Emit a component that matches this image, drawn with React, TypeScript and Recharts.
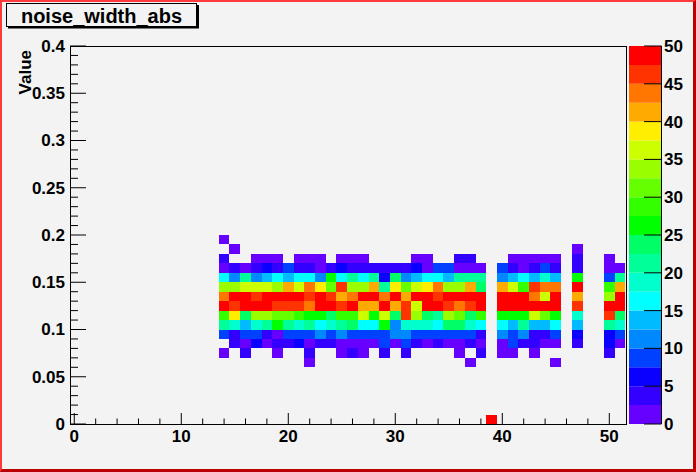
import React from 'react';
import { ScatterChart, Scatter, XAxis, YAxis, ReferenceArea, BarChart, Bar } from 'recharts';

const FONT = "'Liberation Sans', Arial, Helvetica, sans-serif";
const BG = '#f3f3f3';

// bin centres along x (channel), bin lower edges along y (Value)
const xBins = [14, 15, 16, 17, 18, 19, 20, 21, 22, 23, 24, 25, 26, 27, 28, 29, 30, 31, 32, 33,
    34, 35, 36, 37, 38, 39, 40, 41, 42, 43, 44, 45, 46, 47, 48, 49, 50, 51];
const rowLows = [0.19, 0.18, 0.17, 0.16, 0.15, 0.14, 0.13, 0.12, 0.11, 0.10, 0.09, 0.08, 0.07, 0.06];

// counts per row, columns 14..51
const row019 = [1, 0, 0, 0, 0, 0, 0, 0, 0, 0, 0, 0, 0, 0, 0, 0, 0, 0, 0, 0, 0, 0, 0, 0, 0, 0, 0, 0, 0, 0, 0, 0, 0, 0, 0, 0, 0, 0];
const row018 = [0, 1, 0, 0, 0, 0, 0, 0, 0, 0, 0, 0, 0, 0, 0, 0, 0, 0, 0, 0, 0, 0, 0, 0, 0, 0, 0, 0, 0, 0, 0, 0, 0, 1, 0, 0, 0, 0];
const row017 = [4, 0, 0, 1, 1, 1, 0, 1, 1, 1, 0, 1, 1, 1, 0, 0, 0, 0, 1, 1, 0, 0, 4, 4, 0, 0, 0, 1, 1, 1, 1, 1, 0, 4, 0, 0, 1, 0];
const row016 = [1, 4, 1, 4, 6, 4, 8, 4, 4, 1, 4, 6, 4, 4, 4, 4, 4, 4, 6, 1, 8, 8, 1, 1, 1, 0, 8, 4, 1, 4, 8, 4, 0, 4, 0, 0, 1, 1];
const row015 = [16, 11, 21, 11, 14, 16, 14, 16, 16, 11, 26, 16, 21, 16, 21, 6, 23, 11, 14, 16, 16, 14, 21, 21, 21, 0, 11, 14, 16, 14, 19, 14, 0, 26, 0, 0, 8, 21];
const row014 = [34, 34, 36, 36, 36, 34, 41, 36, 44, 39, 31, 46, 34, 34, 41, 21, 39, 31, 36, 39, 44, 34, 34, 41, 24, 0, 41, 36, 29, 46, 44, 44, 0, 49, 0, 0, 29, 41];
const row013 = [44, 49, 49, 46, 49, 49, 49, 49, 46, 49, 46, 41, 44, 49, 49, 44, 49, 41, 49, 49, 46, 49, 49, 49, 49, 0, 49, 49, 49, 44, 36, 49, 0, 41, 0, 0, 34, 49];
const row012 = [49, 46, 49, 49, 49, 46, 46, 46, 44, 49, 49, 46, 49, 41, 41, 49, 41, 46, 36, 49, 49, 46, 44, 46, 49, 0, 49, 49, 49, 49, 49, 49, 0, 46, 0, 0, 49, 49];
const row011 = [29, 39, 24, 34, 34, 31, 31, 29, 26, 26, 24, 29, 29, 36, 26, 36, 24, 46, 34, 24, 21, 34, 31, 24, 29, 0, 26, 26, 26, 36, 31, 26, 0, 19, 0, 0, 46, 24];
const row010 = [21, 19, 14, 19, 21, 26, 21, 19, 21, 16, 19, 21, 24, 16, 16, 26, 11, 19, 19, 19, 16, 24, 24, 19, 16, 0, 16, 14, 21, 14, 14, 16, 0, 14, 0, 0, 21, 19];
const row009 = [8, 4, 8, 8, 4, 1, 8, 8, 8, 11, 8, 11, 8, 9, 8, 8, 11, 11, 8, 9, 9, 8, 8, 9, 4, 0, 11, 8, 11, 4, 4, 9, 0, 6, 0, 0, 6, 9];
const row008 = [0, 4, 1, 6, 1, 4, 4, 6, 1, 4, 4, 1, 1, 1, 1, 8, 1, 8, 4, 1, 4, 1, 1, 4, 1, 0, 1, 8, 4, 4, 1, 1, 0, 4, 0, 0, 6, 1];
const row007 = [1, 0, 4, 0, 0, 1, 0, 0, 4, 0, 0, 1, 4, 1, 0, 4, 0, 4, 0, 0, 0, 0, 1, 0, 4, 0, 1, 1, 0, 1, 0, 0, 0, 0, 0, 0, 4, 0];
const row006 = [0, 0, 0, 0, 0, 0, 0, 0, 1, 0, 0, 0, 0, 0, 0, 0, 0, 0, 0, 0, 0, 0, 0, 1, 0, 0, 0, 0, 0, 0, 0, 1, 0, 0, 0, 0, 0, 0];

// the lone bin sitting on the x axis
const lowBinX = 39;
const lowBinY = 0;
const lowBinCount = 49;

const xMajor = [0, 10, 20, 30, 40, 50];
const zTicks = [0, 5, 10, 15, 20, 25, 30, 35, 40, 45, 50];
const zMax = 50;
const paletteColors = [
    '#6600ff', '#3300ff', '#0a00ff', '#0040ff', '#0088ff', '#00bbff', '#00ffff', '#00ffcc', '#00ff99', '#00ff66',
    '#00ff00', '#33ff00', '#66ff00', '#99ff00', '#ccff00', '#ffee00', '#ffaa00', '#ff7700', '#ff3300', '#ff0000',
];

const xDomain = [-0.4, 51.56];
const yDomain = [0, 0.4];
const binW = 1;
const binH = 0.01;

const countRows = [row019, row018, row017, row016, row015, row014, row013, row012, row011, row010, row009, row008, row007, row006];

const cells: { x: number; y: number; n: number }[] = [];
rowLows.forEach((yLow, r) => {
    countRows[r].forEach((n, i) => {
        if (n > 0) cells.push({ x: xBins[i], y: yLow, n });
    });
});
cells.push({ x: lowBinX, y: lowBinY, n: lowBinCount });

const zStep = zMax / paletteColors.length;
const colorOf = (n: number) => paletteColors[Math.min(paletteColors.length - 1, Math.floor(n / zStep))];

const xTicks: number[] = [];
for (let v = 0; v <= 50; v += 2) xTicks.push(v);
const yTicks: number[] = [];
for (let i = 0; i <= 40; i++) yTicks.push(i / 100);

const paletteRow = [
    paletteColors.reduce((acc: Record<string, any>, _c, i) => { acc['l' + i] = zStep; return acc; }, { name: 'z' }),
];

const labelStyle = { fontFamily: FONT, fontWeight: 'bold' as const, fontSize: 17, fill: '#000' };

const XTick = (props: any) => {
    const { x, y, payload } = props;
    const major = xMajor.includes(payload.value);
    return (
        <g>
            <line x1={x} x2={x} y1={y} y2={y - (major ? 11 : 5.5)} stroke="#000" />
            {major && <text x={x} y={y + 18} textAnchor="middle" {...labelStyle}>{payload.value}</text>}
        </g>
    );
};

const YTick = (props: any) => {
    const { x, y, payload } = props;
    const major = Math.round(payload.value * 100) % 5 === 0;
    return (
        <g>
            <line x1={x} x2={x + (major ? 16 : 8)} y1={y} y2={y} stroke="#000" />
            {major && <text x={x - 5} y={y} dy="0.35em" textAnchor="end" {...labelStyle}>{String(+payload.value.toFixed(2))}</text>}
        </g>
    );
};

const ZTick = (props: any) => {
    const { x, y, payload } = props;
    return (
        <g>
            <line x1={x - 17.5} x2={x} y1={y} y2={y} stroke="#000" />
            <text x={x + 2.5} y={y} dy="0.35em" textAnchor="start" {...labelStyle}>{payload.value}</text>
        </g>
    );
};

const App: React.FC = () => {
    return (
        <div style={{ position: 'absolute', left: 0, top: 0, width: 696, height: 472, background: BG, overflow: 'hidden' }}>
            <div style={{ position: 'absolute', left: 0, top: 0 }}>
                <ScatterChart width={696} height={472} margin={{ top: 46, right: 70, bottom: 0, left: 0 }}>
                    <XAxis type="number" dataKey="x" domain={xDomain} allowDataOverflow ticks={xTicks} interval={0}
                        height={48} axisLine={false} tickLine={false} tickSize={0} tickMargin={0} tick={<XTick />} />
                    <YAxis type="number" dataKey="y" domain={yDomain} allowDataOverflow ticks={yTicks} interval={0}
                        width={70} axisLine={false} tickLine={false} tickSize={0} tickMargin={0} tick={<YTick />} />
                    {cells.map((c, i) => (
                        <ReferenceArea key={i} x1={c.x - binW / 2} x2={c.x + binW / 2} y1={c.y} y2={c.y + binH}
                            fill={colorOf(c.n)} fillOpacity={1} stroke="none" shapeRendering="crispEdges" />
                    ))}
                    <Scatter data={cells} isAnimationActive={false} shape={() => <g />} />
                    <ReferenceArea x1={xDomain[0]} x2={xDomain[1]} y1={yDomain[0]} y2={yDomain[1]} ifOverflow="visible"
                        fill="none" stroke="#000" strokeWidth={1} shapeRendering="crispEdges" />
                </ScatterChart>
            </div>
            <div style={{ position: 'absolute', left: 629, top: 0 }}>
                <BarChart width={67} height={472} data={paletteRow} margin={{ top: 46, right: 0, bottom: 48, left: 0 }}
                    barCategoryGap={0}>
                    <XAxis dataKey="name" hide />
                    <YAxis orientation="right" type="number" domain={[0, zMax]} allowDataOverflow ticks={zTicks} interval={0}
                        width={34.5} axisLine={{ stroke: '#000' }} tickLine={false} tickSize={0} tickMargin={0} tick={<ZTick />} />
                    {paletteColors.map((c, i) => (
                        <Bar key={i} dataKey={'l' + i} stackId="z" fill={c} isAnimationActive={false} />
                    ))}
                </BarChart>
            </div>
            <svg width={696} height={472} style={{ position: 'absolute', left: 0, top: 0, pointerEvents: 'none' }}>
                <rect x={8} y={5} width={191} height={23.5} fill="#000" />
                <rect x={6.5} y={3.5} width={190} height={23} fill={BG} stroke="#000" />
                <text x={101.5} y={22.5} textAnchor="middle" fontFamily={FONT} fontWeight="bold" fontSize={20} fill="#000">noise_width_abs</text>
                <text transform="translate(30.5,50) rotate(-90)" textAnchor="end" {...labelStyle}>Value</text>
            </svg>
            <div style={{
                position: 'absolute', left: 0, top: 0, width: 696, height: 472, boxSizing: 'border-box',
                borderLeft: '2px solid #ff3a3a', borderTop: '2px solid #ff3a3a',
                borderRight: '3px solid #bb0000', borderBottom: '3px solid #bb0000', pointerEvents: 'none',
            }} />
        </div>
    );
};

export default App;
